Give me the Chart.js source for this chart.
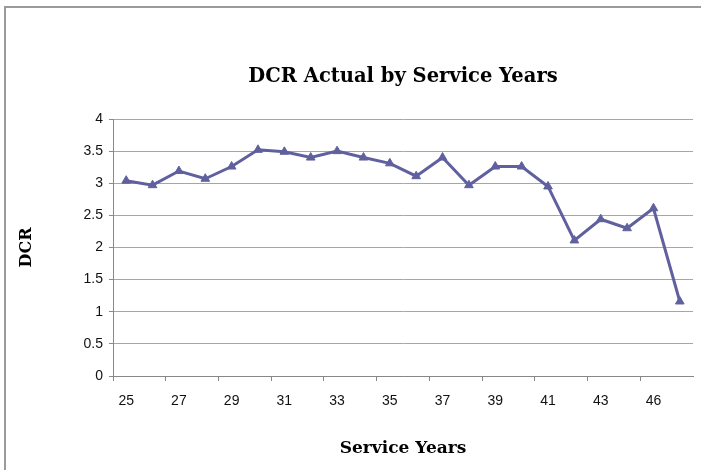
<!DOCTYPE html>
<html>
<head>
<meta charset="utf-8">
<script src="https://cdn.jsdelivr.net/npm/chart.js@4"></script>
<style>
  html, body { margin: 0; padding: 0; background: #fff; overflow: hidden; }
  #wrap { position: relative; width: 701px; height: 470px; }
  #frame { position: absolute; left: 4px; top: 6px; width: 760px; height: 520px;
           border-left: 2px solid #9a9a9a; border-top: 2px solid #9a9a9a; pointer-events: none; }
  canvas { position: absolute; left: 0; top: 0; }
</style>
</head>
<body>
<div id="wrap">
  <canvas id="c" width="701" height="470"></canvas>
  <div id="frame"></div>
</div>
<script>
const serviceYears = ['25','26','27','28','29','30','31','32','33','34','35','36','37','38','39','40','41','42','43','44','46','47'];
const dcrActual = [3.04, 2.97, 3.19, 3.07, 3.26, 3.52, 3.49, 3.40, 3.50, 3.40, 3.31, 3.11, 3.40, 2.97, 3.26, 3.26, 2.95, 2.11, 2.44, 2.30, 2.61, 1.16];
const chartTitle = 'DCR Actual by Service Years';
const xTitle = 'Service Years';
const yTitle = 'DCR';

const serif = "'DejaVu Serif', 'Liberation Serif', serif";
const sans = "'Liberation Sans', Arial, sans-serif";

new Chart(document.getElementById('c'), {
  type: 'line',
  data: {
    labels: serviceYears,
    datasets: [{
      data: dcrActual,
      borderColor: '#60609f',
      backgroundColor: '#60609f',
      borderWidth: 3,
      pointStyle: 'triangle',
      pointRadius: 5,
      pointBorderWidth: 1,
      tension: 0,
      fill: false
    }]
  },
  options: {
    responsive: false,
    animation: false,
    devicePixelRatio: 1,
    layout: { padding: { left: 0, right: 8, top: 0, bottom: 0 } },
    plugins: {
      legend: { display: false },
      tooltip: { enabled: false },
      title: {
        display: true,
        text: chartTitle,
        fullSize: false,
        color: '#000',
        font: { family: serif, size: 19.5, weight: 'bold', lineHeight: 1.2 },
        padding: { top: 65, bottom: 30.6 }
      }
    },
    scales: {
      x: {
        offset: true,
        afterFit: s => { s.height = 94; },
        grid: {
          offset: true,
          drawOnChartArea: false,
          tickLength: 5,
          tickColor: ctx => (ctx.index % 2 === 0 ? '#888' : 'rgba(0,0,0,0)')
        },
        border: { color: '#888', width: 1 },
        ticks: {
          autoSkip: false,
          maxRotation: 0,
          color: '#111',
          padding: 12,
          font: { family: sans, size: 14 },
          callback: function (v, i) { return i % 2 === 0 ? this.getLabelForValue(v) : ''; }
        },
        title: {
          display: true,
          text: xTitle,
          color: '#000',
          font: { family: serif, size: 17, weight: 'bold', lineHeight: 1.2 },
          padding: { top: 0, bottom: 11 }
        }
      },
      y: {
        min: 0,
        max: 4,
        afterFit: s => { s.width = 113; },
        grid: { color: '#a6a6a6', tickLength: 4, tickColor: '#888', lineWidth: 1 },
        border: { color: '#888', width: 1 },
        ticks: {
          stepSize: 0.5,
          color: '#111',
          padding: 6,
          font: { family: sans, size: 14 },
          callback: v => String(v)
        },
        title: {
          display: true,
          text: yTitle,
          color: '#000',
          font: { family: serif, size: 16, weight: 'bold', lineHeight: 1.2 },
          padding: { top: 17, bottom: 0 }
        }
      }
    }
  }
});
</script>
</body>
</html>
